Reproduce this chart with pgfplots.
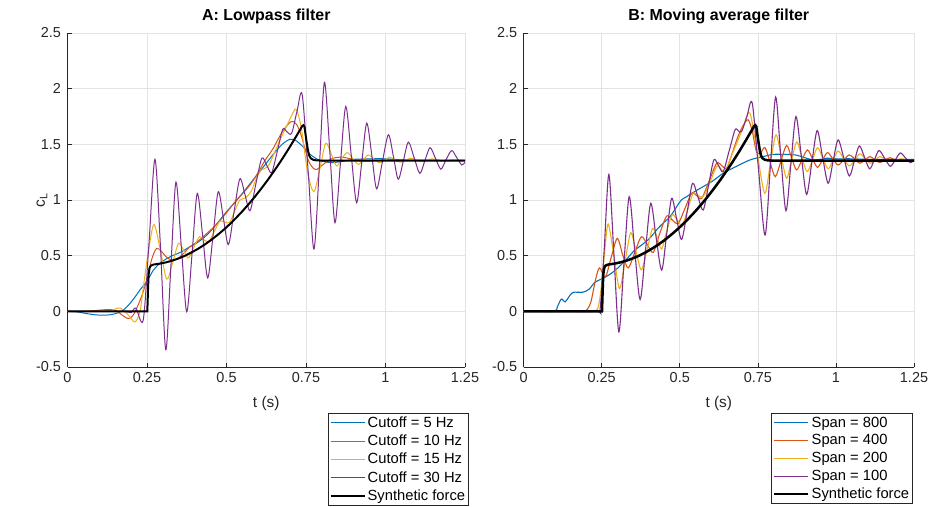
\documentclass[border=0pt]{standalone}
\usepackage{fontspec}
\setmainfont{Liberation Sans}
\usepackage{pgfplots}
\usepackage{pgfplotstable}
\pgfplotsset{compat=1.18}
\definecolor{mblue}{rgb}{0,0.447,0.741}
\definecolor{morange}{rgb}{0.85,0.325,0.098}
\definecolor{myellow}{rgb}{0.929,0.694,0.125}
\definecolor{mpurple}{rgb}{0.494,0.184,0.556}
\definecolor{axgray}{rgb}{0.15,0.15,0.15}

\pgfplotstableread{
t y
0 0
0.251 0
0.253 0.18
0.255 0.33
0.258 0.39
0.262 0.41
0.27 0.42
0.29 0.428
0.31 0.44
0.33 0.456
0.35 0.476
0.37 0.5
0.39 0.529
0.41 0.561
0.43 0.597
0.45 0.637
0.47 0.682
0.49 0.73
0.51 0.782
0.53 0.839
0.55 0.899
0.57 0.964
0.59 1.032
0.61 1.105
0.63 1.181
0.65 1.262
0.67 1.346
0.69 1.435
0.71 1.528
0.73 1.624
0.738 1.664
0.742 1.672
0.745 1.66
0.748 1.6
0.752 1.52
0.756 1.45
0.76 1.4
0.765 1.375
0.772 1.362
0.782 1.356
0.8 1.354
1.25 1.354
}\blackdata

\pgfplotsset{mstyle/.style={
  scale only axis, height=334bp,
  xmin=0, xmax=1.25, ymin=-0.5, ymax=2.5,
  xtick={0,0.25,0.5,0.75,1,1.25}, xticklabels={0,0.25,0.5,0.75,1,1.25},
  ytick={-0.5,0,0.5,1,1.5,2,2.5}, yticklabels={-0.5,0,0.5,1,1.5,2,2.5},
  axis x line*=bottom, axis y line*=left,
  axis line style={axgray, line width=0.6bp, -},
  tick style={axgray, line width=0.6bp},
  tick align=inside, major tick length=4bp,
  grid=major, major grid style={draw=black!11, line width=0.6bp},
  tick label style={font=\fontsize{14.5}{16}\selectfont, text=axgray},
  xticklabel style={yshift=-2bp},
  yticklabel style={xshift=-3bp},
  xlabel={t (s)},
  xlabel style={yshift=-7bp},
  label style={font=\fontsize{15.5}{17}\selectfont, text=axgray},
  title style={font=\bfseries\fontsize{16}{18}\selectfont, text=black},
  legend cell align=left,
  legend style={font=\fontsize{14.8}{16}\selectfont, draw=axgray, line width=0.6bp,
    anchor=north east, inner sep=1.5bp, row sep=2bp},
  legend image code/.code={\draw[#1] (0bp,0bp) -- (34bp,0bp);},
  every axis plot/.append style={mark=none},
}}

\begin{document}
\begin{tikzpicture}
\useasboundingbox (0,0) rectangle (933bp,-507bp);
% ---------------- A ----------------
\begin{axis}[mstyle, width=397.5bp, at={(67.5bp,-367bp)}, anchor=south west,
  title={A: Lowpass filter},
  ylabel={c\textsubscript{L}},
  ylabel style={at={(axis description cs:-0.064,0.5)}, anchor=center, rotate=0},
  legend style={at={(1.01,-0.138)}}]
\addplot[mblue, line width=1bp, smooth] coordinates {
(0,0) (0.03,-0.005) (0.06,-0.02) (0.09,-0.032) (0.118,-0.035) (0.145,-0.025) (0.17,0.0)
(0.19,0.05) (0.21,0.12) (0.23,0.2) (0.25,0.27) (0.27,0.37) (0.29,0.43) (0.31,0.47)
(0.33,0.50) (0.355,0.53) (0.385,0.58) (0.41,0.62) (0.44,0.69) (0.465,0.77) (0.49,0.86)
(0.52,0.96) (0.55,1.06) (0.575,1.15) (0.6,1.24) (0.625,1.33) (0.65,1.42) (0.675,1.5)
(0.70,1.546) (0.72,1.53) (0.74,1.48) (0.763,1.41) (0.79,1.36) (0.815,1.34) (0.836,1.336)
(0.87,1.35) (0.9,1.365) (0.95,1.37) (1.0,1.37) (1.05,1.36) (1.1,1.355) (1.25,1.355)};
\addlegendentry{Cutoff = 5 Hz}
\addplot[morange, line width=1bp, smooth] coordinates {
(0,0) (0.04,0) (0.08,0.005) (0.12,0.015) (0.15,0.01) (0.17,-0.03) (0.191,-0.065) (0.205,-0.04)
(0.218,0.03) (0.235,0.15) (0.25,0.29) (0.265,0.47) (0.280,0.565) (0.295,0.54) (0.31,0.49)
(0.328,0.46) (0.345,0.47) (0.365,0.52) (0.385,0.58) (0.41,0.63) (0.438,0.70) (0.465,0.77)
(0.49,0.85) (0.515,0.94) (0.542,1.03) (0.57,1.12) (0.595,1.225) (0.62,1.35) (0.647,1.465)
(0.675,1.61) (0.703,1.705) (0.72,1.68) (0.735,1.58) (0.757,1.36) (0.773,1.285) (0.785,1.276)
(0.8,1.31) (0.83,1.37) (0.862,1.385) (0.89,1.37) (0.92,1.35) (0.95,1.35) (1.0,1.36) (1.25,1.355)};
\addlegendentry{Cutoff = 10 Hz}
\addplot[myellow, line width=1bp, smooth] coordinates {
(0,0) (0.1,0) (0.14,0.01) (0.165,0.03) (0.19,-0.03) (0.212,-0.095) (0.228,0.0) (0.24,0.25)
(0.255,0.55) (0.272,0.78) (0.292,0.55) (0.312,0.29) (0.33,0.43) (0.349,0.61) (0.365,0.55)
(0.38,0.48) (0.398,0.58) (0.415,0.67) (0.43,0.64) (0.445,0.63) (0.462,0.72) (0.479,0.81)
(0.495,0.80) (0.51,0.80) (0.526,0.9) (0.542,1.0) (0.56,1.02) (0.578,1.08) (0.595,1.2)
(0.61,1.27) (0.63,1.3) (0.65,1.42) (0.67,1.55) (0.69,1.67) (0.705,1.76) (0.719,1.815)
(0.735,1.65) (0.755,1.25) (0.775,1.075) (0.795,1.3) (0.812,1.51) (0.83,1.41) (0.846,1.306)
(0.862,1.37) (0.880,1.426) (0.898,1.37) (0.915,1.32) (0.93,1.36) (0.946,1.405) (0.963,1.37)
(0.98,1.335) (1.0,1.36) (1.013,1.385) (1.03,1.36) (1.047,1.34) (1.08,1.375) (1.113,1.345)
(1.146,1.37) (1.18,1.35) (1.21,1.362) (1.25,1.355)};
\addlegendentry{Cutoff = 15 Hz}
\addplot[mpurple, line width=1bp, smooth] coordinates {
(0,0) (0.15,0) (0.18,0) (0.2,-0.01) (0.215,0.03) (0.238,-0.08) (0.256,0.6) (0.275,1.366) (0.292,0.6)
(0.309,-0.345) (0.325,0.4) (0.341,1.16) (0.358,0.58) (0.375,-0.005) (0.392,0.53) (0.408,1.06)
(0.425,0.68) (0.441,0.30) (0.458,0.69) (0.474,1.075) (0.49,0.84) (0.506,0.60) (0.524,0.9)
(0.542,1.19) (0.558,1.05) (0.574,0.904) (0.592,1.14) (0.611,1.375) (0.627,1.31) (0.642,1.246)
(0.66,1.44) (0.677,1.637) (0.691,1.61) (0.705,1.60) (0.722,1.80) (0.738,1.946) (0.757,1.25)
(0.775,0.559) (0.792,1.3) (0.808,2.057) (0.825,1.43) (0.841,0.796) (0.858,1.32) (0.875,1.84)
(0.892,1.41) (0.909,0.976) (0.925,1.33) (0.941,1.69) (0.957,1.40) (0.972,1.10) (0.99,1.34)
(1.009,1.586) (1.025,1.39) (1.040,1.186) (1.056,1.35) (1.072,1.52) (1.09,1.38) (1.108,1.24)
(1.124,1.355) (1.140,1.47) (1.157,1.375) (1.174,1.277) (1.19,1.36) (1.208,1.444) (1.224,1.38)
(1.240,1.315) (1.25,1.34)};
\addlegendentry{Cutoff = 30 Hz}
\addplot[black, line width=2bp] table {\blackdata};
\addlegendentry{Synthetic force}
\end{axis}
% ---------------- B ----------------
\begin{axis}[mstyle, width=390.4bp, at={(523.6bp,-367bp)}, anchor=south west,
  title={B: Moving average filter},
  legend style={at={(0.9974,-0.138)}}]
\addplot[mblue, line width=1.1bp, smooth] coordinates {
(0,0) (0.05,0) (0.10,0) (0.108,0.04) (0.121,0.11) (0.133,0.085) (0.145,0.13) (0.158,0.17) (0.19,0.172)
(0.21,0.2) (0.228,0.26) (0.249,0.29) (0.275,0.33) (0.302,0.39) (0.33,0.47) (0.356,0.55)
(0.38,0.6) (0.405,0.66) (0.43,0.745) (0.45,0.8) (0.469,0.85) (0.49,0.94) (0.505,1.0)
(0.522,1.03) (0.55,1.08) (0.575,1.12) (0.605,1.17) (0.639,1.24) (0.68,1.3) (0.725,1.36)
(0.767,1.39) (0.8,1.41) (0.831,1.41) (0.87,1.405) (0.9,1.38) (0.927,1.36) (0.95,1.365)
(0.97,1.375) (1.0,1.37) (1.05,1.37) (1.1,1.365) (1.15,1.365) (1.25,1.365)};
\addlegendentry{Span = 800}
\addplot[morange, line width=1.1bp, smooth] coordinates {
(0,0) (0.1,0) (0.19,0) (0.2,0.005) (0.215,0.08) (0.23,0.28) (0.243,0.39) (0.262,0.31) (0.28,0.48) (0.300,0.655)
(0.318,0.5) (0.335,0.39) (0.356,0.53) (0.377,0.67) (0.396,0.6) (0.415,0.53) (0.436,0.7)
(0.458,0.856) (0.476,0.82) (0.495,0.79) (0.516,0.92) (0.538,1.06) (0.554,1.04) (0.570,1.015)
(0.594,1.17) (0.618,1.33) (0.634,1.31) (0.65,1.285) (0.668,1.42) (0.685,1.56) (0.703,1.67)
(0.719,1.72) (0.732,1.62) (0.745,1.44) (0.758,1.42) (0.773,1.47) (0.79,1.33) (0.806,1.21)
(0.824,1.35) (0.842,1.49) (0.858,1.38) (0.874,1.27) (0.891,1.36) (0.909,1.45) (0.925,1.37)
(0.941,1.294) (0.957,1.36) (0.973,1.426) (0.99,1.37) (1.007,1.315) (1.025,1.36) (1.043,1.405)
(1.06,1.37) (1.077,1.33) (1.093,1.36) (1.109,1.39) (1.125,1.36) (1.141,1.336) (1.157,1.36)
(1.173,1.38) (1.19,1.36) (1.21,1.345) (1.23,1.355) (1.25,1.36)};
\addlegendentry{Span = 400}
\addplot[myellow, line width=1.1bp, smooth] coordinates {
(0,0) (0.1,0) (0.22,0) (0.23,0.003) (0.24,0.05) (0.25,0.25) (0.26,0.55) (0.271,0.784) (0.289,0.5) (0.307,0.205)
(0.325,0.45) (0.343,0.706) (0.36,0.54) (0.377,0.373) (0.396,0.56) (0.413,0.745) (0.428,0.66)
(0.442,0.56) (0.458,0.72) (0.476,0.867) (0.492,0.82) (0.508,0.775) (0.526,0.92) (0.543,1.06)
(0.559,1.04) (0.575,1.03) (0.597,1.16) (0.618,1.30) (0.632,1.28) (0.645,1.255) (0.666,1.40)
(0.687,1.54) (0.706,1.68) (0.725,1.78) (0.748,1.42) (0.772,1.06) (0.79,1.33) (0.808,1.585)
(0.825,1.39) (0.842,1.195) (0.858,1.36) (0.875,1.522) (0.891,1.38) (0.908,1.255) (0.925,1.36)
(0.941,1.47) (0.958,1.375) (0.975,1.28) (0.991,1.36) (1.007,1.44) (1.025,1.37) (1.043,1.306)
(1.06,1.36) (1.077,1.414) (1.094,1.37) (1.111,1.33) (1.126,1.36) (1.141,1.39) (1.159,1.365)
(1.177,1.345) (1.193,1.36) (1.21,1.37) (1.23,1.36) (1.25,1.36)};
\addlegendentry{Span = 200}
\addplot[mpurple, line width=1.1bp, smooth] coordinates {
(0,0) (0.1,0) (0.235,0) (0.245,0.02) (0.258,0.55) (0.273,1.23) (0.289,0.52) (0.305,-0.185) (0.321,0.42) (0.338,1.03)
(0.355,0.57) (0.373,0.106) (0.39,0.54) (0.407,0.97) (0.424,0.67) (0.442,0.37) (0.458,0.69)
(0.474,1.015) (0.49,0.83) (0.506,0.646) (0.524,0.9) (0.541,1.15) (0.558,1.03) (0.575,0.91)
(0.592,1.13) (0.609,1.36) (0.624,1.31) (0.639,1.255) (0.658,1.44) (0.677,1.63) (0.688,1.62)
(0.698,1.615) (0.715,1.75) (0.732,1.87) (0.752,1.28) (0.773,0.685) (0.79,1.3) (0.807,1.925)
(0.823,1.41) (0.840,0.904) (0.856,1.33) (0.872,1.75) (0.889,1.40) (0.906,1.05) (0.923,1.34)
(0.940,1.624) (0.957,1.39) (0.975,1.15) (0.991,1.35) (1.007,1.54) (1.025,1.38) (1.043,1.216)
(1.059,1.35) (1.075,1.486) (1.092,1.38) (1.108,1.28) (1.123,1.36) (1.138,1.445) (1.156,1.375)
(1.174,1.303) (1.19,1.36) (1.206,1.423) (1.222,1.38) (1.239,1.335) (1.25,1.36)};
\addlegendentry{Span = 100}
\addplot[black, line width=2.5bp] table {\blackdata};
\addlegendentry{Synthetic force}
\end{axis}
\end{tikzpicture}
\end{document}
